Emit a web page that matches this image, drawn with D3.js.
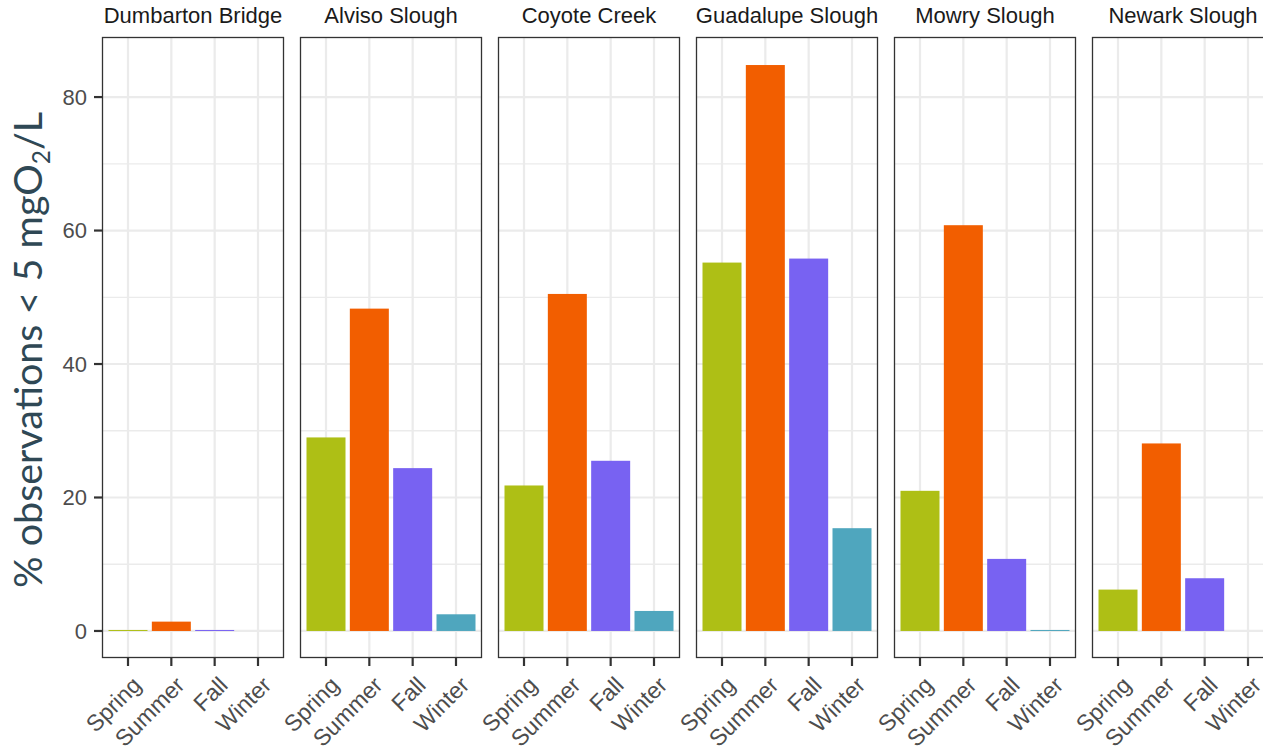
<!DOCTYPE html>
<html>
<head>
<meta charset="utf-8">
<script src="https://cdn.jsdelivr.net/npm/d3@7"></script>
<style>
  html, body { margin: 0; padding: 0; background: #ffffff; }
  svg { display: block; }
</style>
</head>
<body>
<svg id="chart" width="1263" height="751"></svg>
<script>
// Sites shown as facets, left to right
const sites = ["Dumbarton Bridge", "Alviso Slough", "Coyote Creek", "Guadalupe Slough", "Mowry Slough", "Newark Slough"];
const seasons = ["Spring", "Summer", "Fall", "Winter"];

// % of observations below 5 mg O2/L, per site, for each season (null = no data)
const spring = [0.15, 29.0, 21.8, 55.2, 21.0, 6.2];
const summer = [1.4, 48.3, 50.5, 84.8, 60.8, 28.1];
const fall   = [0.15, 24.4, 25.5, 55.8, 10.8, 7.9];
const winter = [null, 2.5, 3.0, 15.4, 0.15, null];

const yTicks = [0, 20, 40, 60, 80];
const yMinor = [10, 30, 50, 70];

const seasonColors = ["#aebf15", "#f25e00", "#7862f2", "#4fa6be"];

// Build long-format rows
const seriesBySeason = [spring, summer, fall, winter];
const rows = [];
sites.forEach((site, i) => {
  seasons.forEach((season, j) => {
    const v = seriesBySeason[j][i];
    if (v !== null) rows.push({ site, season, value: v });
  });
});

const svg = d3.select("#chart");

const panelTop = 37, panelBottom = 658;
const panelWidth = 182, panelStep = 198, firstLeft = 102;

const y = d3.scaleLinear().domain([-4.05, 89.0]).range([panelBottom, panelTop]);
const color = d3.scaleOrdinal().domain(seasons).range(seasonColors);

const gridColor = "#ebebeb";
const inkColor = "#333333";
const labelColor = "#4d4d4d";
const sansFont = "'Liberation Sans', Arial, sans-serif";

sites.forEach((site, i) => {
  const left = firstLeft + i * panelStep;
  const x = d3.scaleBand()
    .domain(seasons)
    .range([left, left + panelWidth])
    .paddingInner(0.1)
    .paddingOuter(0.15);
  const center = d => x(d) + x.bandwidth() / 2;

  const g = svg.append("g").attr("class", "panel");

  g.append("rect")
    .attr("x", left).attr("y", panelTop)
    .attr("width", panelWidth).attr("height", panelBottom - panelTop)
    .attr("fill", "#ffffff");

  // minor horizontal grid
  g.selectAll("line.minor").data(yMinor).join("line")
    .attr("class", "minor")
    .attr("x1", left).attr("x2", left + panelWidth)
    .attr("y1", d => y(d)).attr("y2", d => y(d))
    .attr("stroke", gridColor).attr("stroke-width", 1.3);

  // major horizontal grid
  g.selectAll("line.major").data(yTicks).join("line")
    .attr("class", "major")
    .attr("x1", left).attr("x2", left + panelWidth)
    .attr("y1", d => y(d)).attr("y2", d => y(d))
    .attr("stroke", gridColor).attr("stroke-width", 2.2);

  // vertical grid at each season
  g.selectAll("line.vgrid").data(seasons).join("line")
    .attr("class", "vgrid")
    .attr("x1", d => center(d)).attr("x2", d => center(d))
    .attr("y1", panelTop).attr("y2", panelBottom)
    .attr("stroke", gridColor).attr("stroke-width", 2.2);

  // bars
  g.selectAll("rect.bar").data(rows.filter(r => r.site === site)).join("rect")
    .attr("class", "bar")
    .attr("x", d => x(d.season))
    .attr("width", x.bandwidth())
    .attr("y", d => y(d.value))
    .attr("height", d => y(0) - y(d.value))
    .attr("fill", d => color(d.season));

  // panel border
  g.append("rect")
    .attr("x", left + 0.5).attr("y", panelTop + 0.5)
    .attr("width", panelWidth - 1).attr("height", panelBottom - panelTop - 1)
    .attr("fill", "none").attr("stroke", inkColor).attr("stroke-width", 1.3);

  // strip title
  svg.append("text")
    .attr("x", left + panelWidth / 2).attr("y", 23)
    .attr("text-anchor", "middle")
    .attr("font-family", sansFont)
    .attr("font-size", 22)
    .attr("fill", "#1a1a1a")
    .text(site);

  // x axis ticks and labels
  const xAxis = svg.append("g");
  xAxis.selectAll("line").data(seasons).join("line")
    .attr("x1", d => center(d)).attr("x2", d => center(d))
    .attr("y1", panelBottom).attr("y2", panelBottom + 8)
    .attr("stroke", inkColor).attr("stroke-width", 2.2);
  xAxis.selectAll("text").data(seasons).join("text")
    .attr("transform", d => `translate(${center(d) + 3},${panelBottom + 17}) rotate(-45)`)
    .attr("text-anchor", "end")
    .attr("dy", "0.71em")
    .attr("font-family", sansFont)
    .attr("font-size", 23)
    .attr("fill", labelColor)
    .text(d => d);
});

// y axis on the first panel
const yAxis = svg.append("g");
yAxis.selectAll("line").data(yTicks).join("line")
  .attr("x1", firstLeft - 8).attr("x2", firstLeft)
  .attr("y1", d => y(d)).attr("y2", d => y(d))
  .attr("stroke", inkColor).attr("stroke-width", 2.2);
yAxis.selectAll("text").data(yTicks).join("text")
  .attr("x", firstLeft - 15).attr("y", d => y(d))
  .attr("dy", "0.36em")
  .attr("text-anchor", "end")
  .attr("font-family", sansFont)
  .attr("font-size", 22)
  .attr("fill", labelColor)
  .text(d => d);

// y axis title with subscript
const title = svg.append("text")
  .attr("transform", "translate(42,350) rotate(-90)")
  .attr("text-anchor", "middle")
  .attr("font-family", "Lato, 'Noto Sans', sans-serif")
  .attr("font-size", 36)
  .attr("fill", "#2f4855");
title.append("tspan").text("% observations < 5 mgO");
title.append("tspan").attr("font-size", 22).attr("dy", 7).text("2");
title.append("tspan").attr("dy", -7).text("/L");

// fit the title to its span along the axis
const targetLen = 476;
const len = title.node().getComputedTextLength();
const fs = 36 * targetLen / len;
title.attr("font-size", fs);
title.select("tspan:nth-child(2)").attr("font-size", fs * 0.62).attr("dy", fs * 0.2);
title.select("tspan:nth-child(3)").attr("dy", -fs * 0.2);
</script>
</body>
</html>
